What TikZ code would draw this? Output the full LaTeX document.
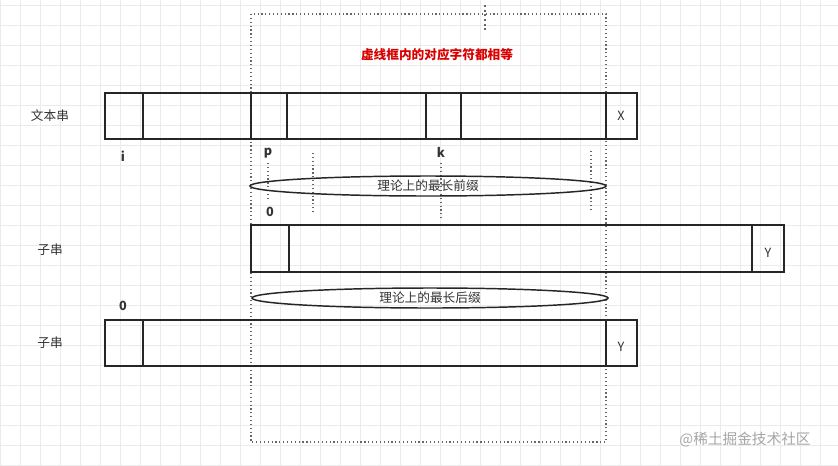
\documentclass[tikz,border=0pt]{standalone}
\usepackage{fontspec}
\setmainfont{Noto Sans CJK SC}
\begin{document}
\begin{tikzpicture}[x=0.75pt,y=-0.75pt,
  cell/.style={draw=black!85,line width=1.2pt},
  dotline/.style={draw=black!60,dotted,line width=0.9pt},
  lbl/.style={font=\fontsize{9.5}{10}\selectfont,text=black!80},
  mk/.style={font=\bfseries\fontsize{9.5}{10}\selectfont,text=black!80},
  oval/.style={draw=black!85,line width=1.1pt}]
\useasboundingbox (0,0) rectangle (838,465);
\fill[white] (0,0) rectangle (838,465);
\foreach \x in {0,20,...,838} \draw[black!8,line width=0.4pt] (\x,0) -- (\x,465);
\foreach \y in {5,25,...,465} \draw[black!8,line width=0.4pt] (0,\y) -- (838,\y);
% dotted frame
\draw[dotline] (251,14) rectangle (606,442);
\draw[dotline,line width=1.5pt] (485,5) -- (485,30);
\node[font=\bfseries\fontsize{9.5}{10}\selectfont,text=red!85!black] (title) at (437,55) {虚线框内的对应字符都相等};
% row 1
\draw[cell] (105,93) rectangle (637,139);
\foreach \x in {143,251,287,426,461,606} \draw[cell] (\x,93) -- (\x,139);
\node[lbl] (X) at (621,116) {X};
\node[lbl] (t1) at (50,116) {文本串};
\node[mk] (i) at (123,156) {i};
\node[mk] (p) at (268,153) {p};
\node[mk] (k) at (441,152) {k};
\draw[dotline] (268,163) -- (268,200);
\draw[dotline] (313,153) -- (313,213);
\draw[dotline] (441,163) -- (441,220);
\draw[dotline] (591,151) -- (591,212);
\draw[oval] (428,186) ellipse [x radius=178,y radius=10];
\node[lbl] (e1) at (428,186) {理论上的最长前缀};
\node[mk] (z1) at (270,212) {0};
% row 2
\draw[cell] (251,225) rectangle (784,272);
\foreach \x in {289,752} \draw[cell] (\x,225) -- (\x,272);
\node[lbl] (Y1) at (768,253) {Y};
\node[lbl] (t2) at (50,250) {子串};
\draw[oval] (430,298) ellipse [x radius=178,y radius=10];
\node[lbl] (e2) at (430,298) {理论上的最长后缀};
\node[mk] (z2) at (123,306) {0};
% row 3
\draw[cell] (105,320) rectangle (637,366);
\foreach \x in {143,606} \draw[cell] (\x,320) -- (\x,366);
\node[lbl] (Y2) at (621,347) {Y};
\node[lbl] (t3) at (50,343) {子串};
\node[font=\fontsize{11}{12}\selectfont,text=black!35] (wm) at (745,440) {@稀土掘金技术社区};
\end{tikzpicture}
\end{document}
